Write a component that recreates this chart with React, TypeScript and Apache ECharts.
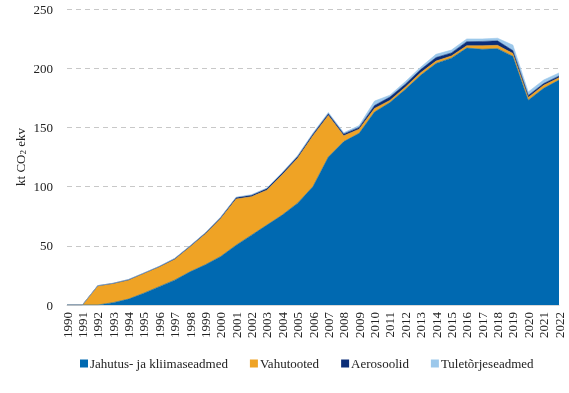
import React, { useEffect, useRef } from "react";
import * as echarts from "echarts";

const years = Array.from({ length: 33 }, (_, i) => String(1990 + i));
const yTicks = [0, 50, 100, 150, 200, 250];

const cooling = [0, 0, 0, 2, 5, 10, 15.5, 21, 28, 34, 41, 50.5, 59, 67.5, 76, 86, 100, 125, 138, 145, 163, 171, 182, 194, 204, 208.5, 217, 216, 216.5, 210, 173, 183, 190];
const foam = [0, 0, 16, 16, 16, 16.5, 16.5, 17.5, 21, 26, 32, 39, 32.5, 29.5, 34, 38, 43, 35, 5, 3.5, 3, 1.8, 2, 2.2, 2, 1.8, 2, 3, 2.8, 2.5, 2.3, 2.5, 2];
const aerosols = [0, 0, 0.3, 0.3, 0.4, 0.4, 0.5, 0.6, 0.7, 0.8, 1, 1.2, 1.2, 1.3, 1.4, 1.5, 1.5, 1.6, 1.5, 1.5, 2.5, 2.8, 2.4, 2.6, 3, 2.6, 3.4, 3.6, 3.8, 2.4, 1.7, 1.5, 1.4];
const fire = [0, 0, 0.1, 0.1, 0.2, 0.2, 0.2, 0.3, 0.3, 0.3, 0.4, 0.4, 0.5, 0.5, 0.6, 0.7, 0.8, 1, 1, 1.5, 3.7, 1.6, 2.2, 2, 2.7, 2.4, 2.3, 2.1, 2.2, 4.6, 3, 3, 2.6];

const seriesNames = ["Jahutus- ja kliimaseadmed", "Vahutooted", "Aerosoolid", "Tuletõrjeseadmed"];
const colors = ["#0069B1", "#EFA325", "#0B2D78", "#9CC8EB"];

const FONT = "'Liberation Serif', 'Times New Roman', serif";

export default function App() {
  const ref = useRef<HTMLDivElement>(null);
  useEffect(() => {
    if (!ref.current) return;
    const chart = echarts.init(ref.current, null, { renderer: "svg" });
    const data = [cooling, foam, aerosols, fire];
    chart.setOption({
      animation: false,
      color: colors,
      textStyle: { fontFamily: FONT },
      grid: { left: 67, right: 10, top: 9, bottom: 88 },
      legend: {
        left: 75,
        top: 352,
        itemWidth: 8,
        itemHeight: 8,
        itemGap: 22,
        icon: "rect",
        data: seriesNames,
        textStyle: { fontFamily: FONT, fontSize: 13, color: "#222", padding: [0, 0, 0, -3] },
      },
      xAxis: {
        type: "category",
        data: years,
        boundaryGap: false,
        axisLine: { lineStyle: { color: "#d9d9d9" } },
        axisTick: { show: false },
        axisLabel: { rotate: 90, fontFamily: FONT, fontSize: 13, color: "#222", margin: 7, interval: 0 },
      },
      yAxis: {
        type: "value",
        min: 0,
        max: 250,
        interval: 50,
        name: "kt CO{sub|2} ekv",
        nameLocation: "middle",
        nameGap: 40,
        nameRotate: 90,
        nameMoveOverlap: false,
        nameTextStyle: {
          fontFamily: FONT,
          fontSize: 13,
          color: "#222",
          rich: { sub: { fontFamily: FONT, fontSize: 9, color: "#222", verticalAlign: "bottom", padding: [4, 0, 0, 0] } },
        },
        axisLabel: {
          fontFamily: FONT,
          fontSize: 13,
          color: "#222",
          margin: 14,
          formatter: (v: number) => (yTicks.includes(v) ? String(v) : ""),
        },
        axisLine: { show: false },
        axisTick: { show: false },
        splitLine: { lineStyle: { color: "#c8c8c8", type: [5, 4], width: 1 } },
      },
      series: seriesNames.map((name, i) => ({
        name,
        type: "line",
        stack: "total",
        data: data[i],
        showSymbol: false,
        symbol: "none",
        lineStyle: { width: 0.6, color: colors[i] },
        areaStyle: { color: colors[i], opacity: 1 },
        z: 2,
      })),
    });
    return () => chart.dispose();
  }, []);
  return <div ref={ref} style={{ position: "fixed", left: 0, top: 0, width: 569, height: 393 }} />;
}
